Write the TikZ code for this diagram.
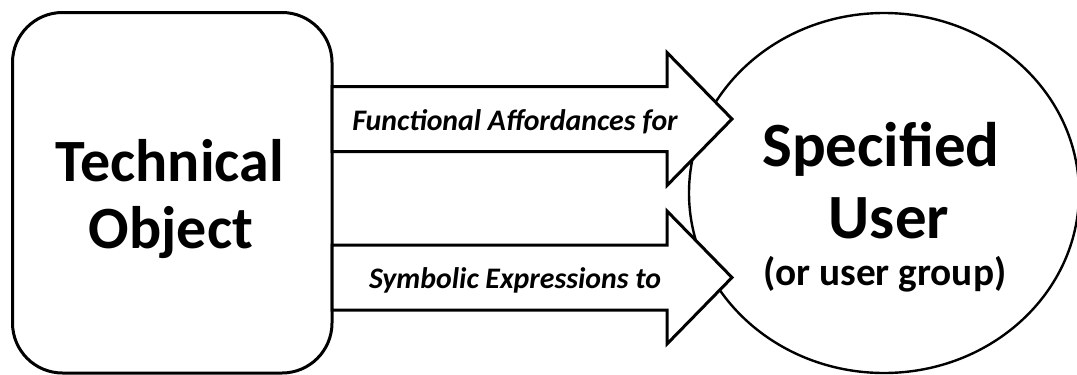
\documentclass[tikz,border=0pt]{standalone}
\usepackage{fontspec}
\setmainfont{Carlito}
\usetikzlibrary{shapes.geometric,calc}
% Block arrow from the east side of a node to a tip coordinate
\newcommand\blockarrowpath[2]{%
  ($(#1.east |- #2)+(0,-32.5)$) -- ($(#2)+(-65,-32.5)$) -- ($(#2)+(-65,-66.5)$)
  -- (#2) -- ($(#2)+(-65,66.5)$) -- ($(#2)+(-65,32.5)$)
  -- ($(#1.east |- #2)+(0,32.5)$) -- cycle}
\begin{document}
\begin{tikzpicture}[x=1pt,y=-1pt,
  outline/.style={draw=black,line width=3pt},
  objbox/.style={outline,rectangle,rounded corners=50pt,minimum width=319.5pt,
    minimum height=360.5pt,inner sep=0pt,outer sep=0pt,fill=white},
  userellipse/.style={draw=black,line width=2.4pt,ellipse,minimum width=390pt,
    minimum height=360pt,inner sep=0pt,fill=white},
  blockarrow/.style={outline,fill=white,line join=miter},
  bigtext/.style={font=\bfseries\fontsize{60}{66}\selectfont,inner sep=0pt,anchor=base},
  usertext/.style={font=\bfseries\fontsize{63}{70}\selectfont,inner sep=0pt,anchor=base},
  subtext/.style={font=\bfseries\fontsize{39.3}{44}\selectfont,inner sep=0pt,anchor=base},
  arrowtext/.style={font=\bfseries\itshape\fontsize{29.8}{32}\selectfont,inner sep=0pt,anchor=base}]
\useasboundingbox (0,0) rectangle (1077,375);

% the user ellipse sits underneath the arrow heads
\node[userellipse] (user) at (884,193) {};
\node[objbox] (obj) at (172.25,192.75) {};

% the two block arrows
\coordinate (tipA) at (732,119);
\coordinate (tipB) at (732,277.5);
\draw[blockarrow] \blockarrowpath{obj}{tipA};
\draw[blockarrow] \blockarrowpath{obj}{tipB};

% labels
\node[bigtext] (objA) at (170,181.7) {Technical};
\node[bigtext] (objB) at (171,248) {Object};
\node[usertext] (userA) at (881,166.7) {Specified};
\node[usertext] (userB) at (889,238) {User};
\node[subtext] (userC) at (885,285) {(or user group)};
\node[arrowtext] (labA) at (515,130) {Functional Affordances for};
\node[arrowtext] (labB) at (515,288) {Symbolic Expressions to};
\end{tikzpicture}
\end{document}
